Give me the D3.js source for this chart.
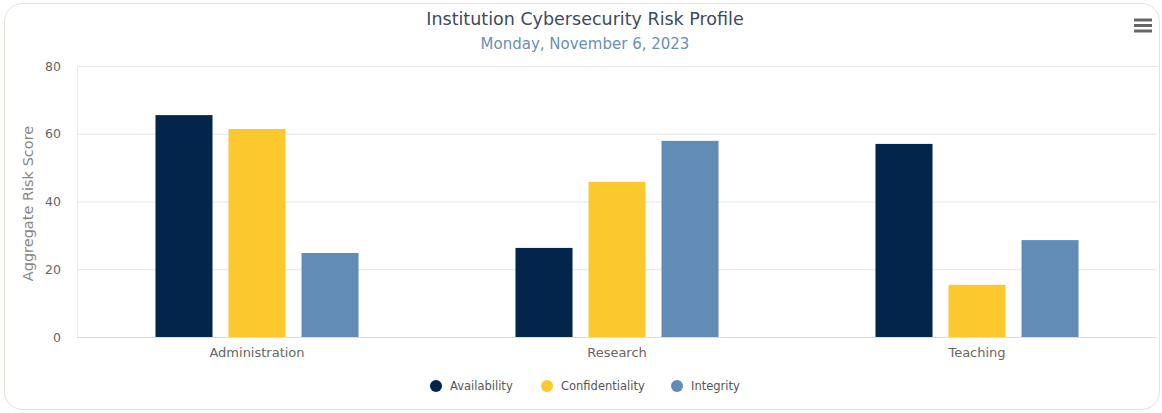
<!DOCTYPE html>
<html><head><meta charset="utf-8">
<script src="https://cdn.jsdelivr.net/npm/d3@7"></script>
<style>
html,body{margin:0;padding:0;background:#fff;}
svg{display:block;font-family:"DejaVu Sans",Verdana,sans-serif;}
</style></head><body>
<svg id="c" width="1162" height="413"></svg>
<script>
const categories = ["Administration", "Research", "Teaching"];
const seriesNames = ["Availability", "Confidentiality", "Integrity"];
const availability = [65.5, 26.3, 57.0];
const confidentiality = [61.4, 45.8, 15.4];
const integrity = [24.8, 57.9, 28.6];
const yTicks = [0, 20, 40, 60, 80];
const colors = ["#03254c", "#fbc82e", "#628bb5"];
const seriesValues = [availability, confidentiality, integrity];

const svg = d3.select("#c");
svg.append("rect").attr("x",4.5).attr("y",3.5).attr("width",1155).attr("height",406)
  .attr("rx",18).attr("fill","#fff").attr("stroke","#e4e3d8");

const m = {left:77, right:1157, top:66, bottom:337};
const x = d3.scaleBand().domain(categories).range([m.left, m.right]);
const xs = d3.scaleBand().domain(seriesNames).range([0, x.bandwidth()]).paddingInner(0.219).paddingOuter(1.075);
const y = d3.scaleLinear().domain([0,80]).range([m.bottom, m.top]);

// grid
svg.append("g").selectAll("line").data(yTicks.filter(t=>t>0)).join("line")
  .attr("x1",m.left).attr("x2",m.right).attr("y1",d=>y(d)+0.5).attr("y2",d=>y(d)+0.5)
  .attr("stroke","#e6e6e6");
svg.append("line").attr("x1",m.left+0.5).attr("x2",m.left+0.5).attr("y1",m.top).attr("y2",m.bottom)
  .attr("stroke","#ececec");

// y axis
const ya = svg.append("g").attr("transform",`translate(${m.left-16},0)`)
  .call(d3.axisLeft(y).tickValues(yTicks).tickSize(0).tickPadding(0));
ya.select(".domain").remove();
ya.selectAll("text").attr("font-family","DejaVu Sans, Verdana, sans-serif").attr("font-size",12.5).attr("fill","#666");

svg.append("text").attr("transform",`translate(33,${(m.top+m.bottom)/2+2}) rotate(-90)`)
  .attr("text-anchor","middle").attr("font-size",14.5).attr("fill","#888").text("Aggregate Risk Score");

// bars
const g = svg.append("g");
seriesNames.forEach((s,si)=>{
  g.append("g").selectAll("rect").data(categories).join("rect")
    .attr("x",c=>x(c)+xs(s)).attr("width",xs.bandwidth())
    .attr("y",(c,i)=>y(seriesValues[si][i])).attr("height",(c,i)=>y(0)-y(seriesValues[si][i]))
    .attr("fill",colors[si]);
});

// x axis
svg.append("line").attr("x1",m.left).attr("x2",m.right).attr("y1",m.bottom+0.5).attr("y2",m.bottom+0.5).attr("stroke","#ddd");
const xa = svg.append("g").attr("transform",`translate(0,${m.bottom})`)
  .call(d3.axisBottom(x).tickSize(0).tickPadding(11));
xa.select(".domain").remove();
xa.selectAll("text").attr("font-family","DejaVu Sans, Verdana, sans-serif").attr("font-size",13).attr("fill","#666");

// title
svg.append("text").attr("x",585).attr("y",25).attr("text-anchor","middle").attr("font-size",17.5)
  .attr("fill","#3b4a5c").text("Institution Cybersecurity Risk Profile");
svg.append("text").attr("x",585).attr("y",49).attr("text-anchor","middle").attr("font-size",15)
  .attr("fill","#6a8fb7").text("Monday, November 6, 2023");

// legend
const legX = [436, 547, 677];
const lg = svg.append("g");
seriesNames.forEach((s,i)=>{
  lg.append("circle").attr("cx",legX[i]).attr("cy",386).attr("r",6).attr("fill",colors[i]);
  lg.append("text").attr("x",legX[i]+14).attr("y",390).attr("font-size",11.5).attr("fill","#555").text(s);
});

// menu icon
[20,25.5,31].forEach(yy=>{
  svg.append("line").attr("x1",1134).attr("x2",1152).attr("y1",yy).attr("y2",yy)
    .attr("stroke","#666").attr("stroke-width",3);
});
</script>
</body></html>
